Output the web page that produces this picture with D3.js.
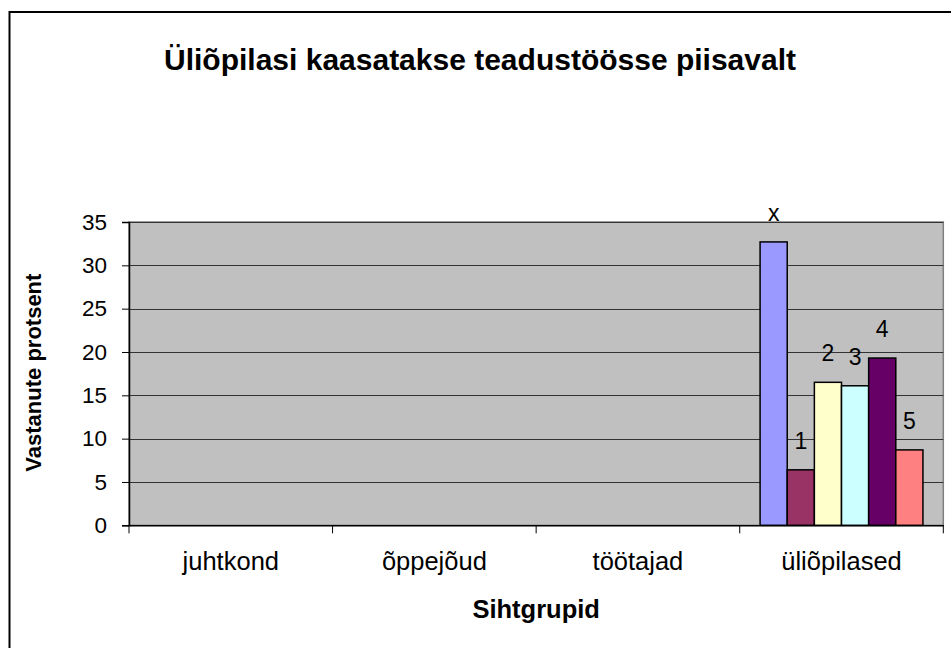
<!DOCTYPE html>
<html>
<head>
<meta charset="utf-8">
<script src="https://cdn.jsdelivr.net/npm/d3@7"></script>
<style>
  html, body { margin: 0; padding: 0; background: #fff; }
  text { font-family: "Liberation Sans", Arial, sans-serif; fill: #000; }
</style>
</head>
<body>
<svg id="chart" width="951" height="648"></svg>
<script>
// ---- data ----
const categories = ["juhtkond", "õppejõud", "töötajad", "üliõpilased"];
const seriesNames = ["x", "1", "2", "3", "4", "5"];
const juhtkondValues = [null, null, null, null, null, null];
const oppejoudValues = [null, null, null, null, null, null];
const tootajadValues = [null, null, null, null, null, null];
const uliopilasedValues = [32.7, 6.4, 16.5, 16.1, 19.3, 8.7];
const yTicks = [0, 5, 10, 15, 20, 25, 30, 35];
const titleText = "Üliõpilasi kaasatakse teadustöösse piisavalt";
const xTitle = "Sihtgrupid";
const yTitle = "Vastanute protsent";

// ---- styles ----
const seriesColors = ["#9999FF", "#993366", "#FFFFCC", "#CCFFFF", "#660066", "#FF8080"];

const valuesByCategory = [juhtkondValues, oppejoudValues, tootajadValues, uliopilasedValues];

const svg = d3.select("#chart");
const W = 951, H = 648;
const plot = { left: 129, right: 943.3, top: 222, bottom: 525.3 };

svg.append("rect").attr("x", 0).attr("y", 0).attr("width", W).attr("height", H).attr("fill", "#fff");
// outer chart border
svg.append("rect").attr("x", 9.5).attr("y", 12).attr("width", 960).attr("height", 700)
  .attr("fill", "none").attr("stroke", "#000").attr("stroke-width", 2);

const x = d3.scaleBand().domain(categories).range([plot.left, plot.right]).padding(0);
const x1 = d3.scaleBand().domain(seriesNames).range([0, x.bandwidth()]).paddingInner(0).paddingOuter(0.75);
const y = d3.scaleLinear().domain([0, 35]).range([plot.bottom, plot.top]);

// plot area
svg.append("rect").attr("x", plot.left).attr("y", plot.top)
  .attr("width", plot.right - plot.left).attr("height", plot.bottom - plot.top)
  .attr("fill", "#C0C0C0").attr("stroke", "#808080").attr("stroke-width", 1.5);

// gridlines
svg.append("g").selectAll("line").data(yTicks.filter(d => d > 0)).join("line")
  .attr("x1", plot.left).attr("x2", plot.right)
  .attr("y1", d => Math.round(y(d)) + 0.5).attr("y2", d => Math.round(y(d)) + 0.5)
  .attr("stroke", "#333").attr("stroke-width", 1);

// bars
const groups = svg.append("g").selectAll("g").data(categories).join("g")
  .attr("transform", d => `translate(${x(d)},0)`);
groups.each(function(cat, ci) {
  const vals = valuesByCategory[ci];
  const g = d3.select(this);
  const data = seriesNames.map((s, i) => ({ s, i, v: vals[i] })).filter(d => d.v != null);
  g.selectAll("rect").data(data).join("rect")
    .attr("x", d => x1(d.s)).attr("width", x1.bandwidth())
    .attr("y", d => y(d.v)).attr("height", d => y(0) - y(d.v))
    .attr("fill", d => seriesColors[d.i]).attr("stroke", "#000").attr("stroke-width", 1.5);
  g.selectAll("text.lbl").data(data).join("text").attr("class", "lbl")
    .attr("x", d => x1(d.s) + x1.bandwidth() / 2).attr("y", d => y(d.v) - 21)
    .attr("text-anchor", "middle").attr("font-size", 23).text(d => d.s);
});

// y axis
const yAxis = d3.axisLeft(y).tickValues(yTicks).tickSize(7).tickPadding(15).tickFormat(d3.format("d"));
const gy = svg.append("g").attr("transform", `translate(${plot.left},0)`).call(yAxis);
gy.select(".domain").attr("stroke", "#000").attr("stroke-width", 1.5);
gy.selectAll(".tick line").attr("stroke", "#000");
gy.selectAll(".tick text").attr("font-size", 22.5).attr("font-family", "Liberation Sans, Arial, sans-serif").attr("fill", "#000");

// x axis
const xAxis = d3.axisBottom(x).tickSize(0).tickPadding(0);
const gx = svg.append("g").attr("transform", `translate(0,${plot.bottom})`).call(xAxis);
gx.select(".domain").attr("stroke", "#000").attr("stroke-width", 1.5);
gx.selectAll(".tick text").attr("font-size", 25.5).attr("font-family", "Liberation Sans, Arial, sans-serif")
  .attr("fill", "#000").attr("dy", 0).attr("y", 45);
// category separator ticks
const sepPositions = categories.map(c => x(c)).concat([x(categories[categories.length - 1]) + x.bandwidth()]);
gx.append("g").selectAll("line").data(sepPositions).join("line")
  .attr("x1", d => d).attr("x2", d => d).attr("y1", 0).attr("y2", 8)
  .attr("stroke", "#000").attr("stroke-width", 1);

// titles
svg.append("text").attr("x", 480).attr("y", 70).attr("text-anchor", "middle")
  .attr("font-size", 30).attr("font-weight", "bold").text(titleText);
svg.append("text").attr("x", (plot.left + plot.right) / 2).attr("y", 618).attr("text-anchor", "middle")
  .attr("font-size", 25.5).attr("font-weight", "bold").text(xTitle);
svg.append("text").attr("transform", `translate(41,${(plot.top + plot.bottom) / 2 - 1}) rotate(-90)`)
  .attr("text-anchor", "middle").attr("font-size", 22).attr("font-weight", "bold").text(yTitle);
</script>
</body>
</html>
